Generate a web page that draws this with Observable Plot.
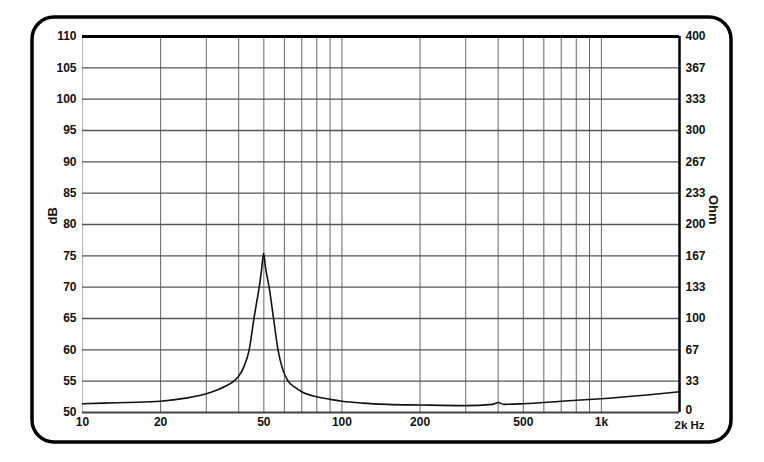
<!DOCTYPE html>
<html>
<head>
<meta charset="utf-8">
<script src="https://cdn.jsdelivr.net/npm/d3@7"></script>
<script src="https://cdn.jsdelivr.net/npm/@observablehq/plot@0.6"></script>
<style>
  html, body { margin: 0; padding: 0; background: #fff; }
  #chart { width: 764px; height: 462px; }
  svg { font-family: "Liberation Sans", Arial, sans-serif; }
</style>
</head>
<body>
<div id="chart"></div>
<script>
// Impedance curve (frequency in Hz, level on dB scale)
const freqHz = [10, 12, 15, 20, 25, 30, 33, 36, 38, 40, 42, 43.9, 45.8, 47, 48, 49, 49.9, 50.8, 52.4, 54.5, 56.7, 59, 62, 66, 70, 80, 90, 100, 120, 150, 200, 300, 380, 400, 420, 500, 700, 1000, 1500, 2000];
const levelDb = [51.4, 51.5, 51.6, 51.8, 52.3, 53.0, 53.6, 54.3, 54.9, 55.8, 57.4, 60.0, 65.0, 67.8, 70.0, 72.8, 75.4, 73.0, 70.0, 65.0, 60.0, 57.0, 55.0, 54.0, 53.3, 52.5, 52.1, 51.8, 51.5, 51.3, 51.2, 51.1, 51.3, 51.6, 51.3, 51.4, 51.8, 52.2, 52.8, 53.3];

// Axes
const dbTicks = [50, 55, 60, 65, 70, 75, 80, 85, 90, 95, 100, 105, 110];
const ohmLabels = ["0", "33", "67", "100", "133", "167", "200", "233", "267", "300", "333", "367", "400"];
const freqGrid = [10, 20, 30, 40, 50, 60, 70, 80, 90, 100, 200, 300, 400, 500, 600, 700, 800, 900, 1000, 2000];
const freqTicks = [10, 20, 50, 100, 200, 500, 1000];
const freqTickLabels = ["10", "20", "50", "100", "200", "500", "1k"];
const lastFreqTick = [2000];
const lastFreqLabel = ["2k Hz"];

const curve = freqHz.map((f, i) => ({f, db: levelDb[i]}));
const ohmByDb = new Map(dbTicks.map((d, i) => [d, ohmLabels[i]]));

const chart = Plot.plot({
  width: 764,
  height: 462,
  marginLeft: 82,
  marginRight: 85,
  marginTop: 36,
  marginBottom: 50,
  style: {fontFamily: "'Liberation Sans', Arial, sans-serif", fontSize: "12px", fontWeight: "bold", color: "#111", background: "#fff"},
  x: {type: "log", domain: [10, 2000], axis: null},
  y: {domain: [50, 110]},
  marks: [
    Plot.ruleX(freqGrid.filter(f => f !== 10 && f !== 2000), {stroke: "#666", strokeWidth: 1}),
    Plot.ruleX([10], {stroke: "#b5b5b5", strokeWidth: 1}),
    Plot.ruleY(dbTicks.filter(d => d !== 50 && d !== 110), {stroke: "#555", strokeWidth: 1.4}),
    Plot.ruleY([50], {stroke: "#444", strokeWidth: 2}),
    Plot.ruleY([110], {stroke: "#000", strokeWidth: 3}),
    Plot.ruleX([2000], {stroke: "#000", strokeWidth: 2.5}),
    Plot.line(curve, {x: "f", y: "db", stroke: "#111", strokeWidth: 1.6, curve: "monotone-x"}),
    Plot.axisY(dbTicks, {anchor: "left", tickSize: 0, tickPadding: 6, label: null, fontWeight: "bold", fontSize: 12}),
    Plot.axisY(dbTicks.slice(1), {anchor: "right", tickSize: 0, tickPadding: 6, label: null, tickFormat: d => ohmByDb.get(d), fontWeight: "bold", fontSize: 12}),
    Plot.text([dbTicks[0]], {y: d => d, frameAnchor: "right", dx: 6, dy: -2, textAnchor: "start", text: d => ohmByDb.get(d), fontWeight: "bold", fontSize: 12}),
    Plot.text(freqTicks, {x: d => d, frameAnchor: "bottom", dy: 13, text: (d, i) => freqTickLabels[i], fontWeight: "bold", fontSize: 12}),
    Plot.text(lastFreqTick, {x: d => d, frameAnchor: "bottom", dy: 16, dx: -5, text: (d, i) => lastFreqLabel[i], textAnchor: "start", fontWeight: "bold", fontSize: 11.5}),
    Plot.text(["dB"], {frameAnchor: "left", dx: -30, rotate: -90, text: d => d, fontWeight: "bold", fontSize: 13}),
    Plot.text(["Ohm"], {frameAnchor: "right", dx: 34, rotate: 90, text: d => d, fontWeight: "bold", fontSize: 13})
  ]
});

// rounded outer border
d3.select(chart).insert("rect", ":first-child")
  .attr("x", 32).attr("y", 17).attr("width", 699).attr("height", 425)
  .attr("rx", 22).attr("ry", 22)
  .attr("fill", "none").attr("stroke", "#000").attr("stroke-width", 3.5);

document.getElementById("chart").appendChild(chart);
</script>
</body>
</html>
